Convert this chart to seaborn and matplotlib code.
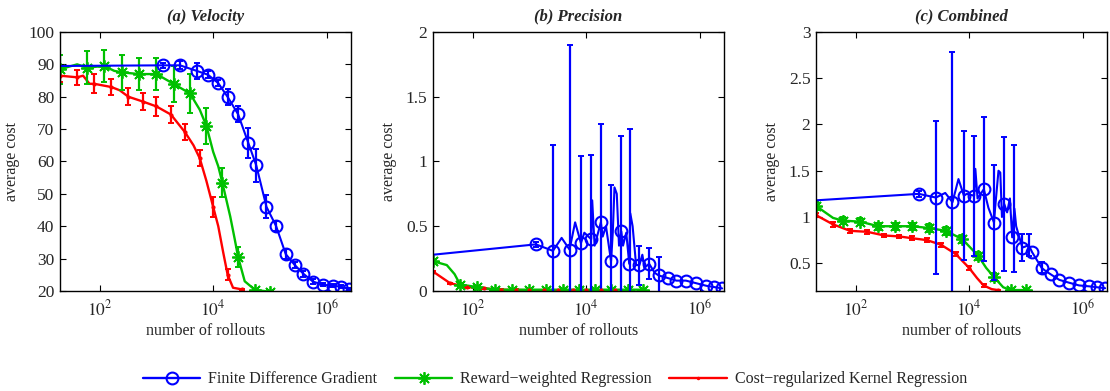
import numpy as np
import matplotlib
matplotlib.use('Agg')
import matplotlib.pyplot as plt
from matplotlib.lines import Line2D
from matplotlib.ticker import NullLocator, FuncFormatter
import seaborn as sns

# 样式设置 (MATLAB 风格)
sns.set_theme(style='ticks')
plt.rcParams['font.family'] = ['Liberation Serif', 'DejaVu Serif']
plt.rcParams['mathtext.fontset'] = 'stix'
plt.rcParams['xtick.direction'] = 'in'
plt.rcParams['ytick.direction'] = 'in'
plt.rcParams['xtick.top'] = True
plt.rcParams['ytick.right'] = True
plt.rcParams['axes.linewidth'] = 1.0

# ---------------- 数据 ----------------
titles = ['(a) Velocity', '(b) Precision', '(c) Combined']
labels = ['Finite Difference Gradient', 'Reward\u2212weighted Regression',
          'Cost\u2212regularized Kernel Regression']

# 公共 x 位置 (rollouts)
fdg_mark_x = [1300, 2600, 5100, 8100, 12300, 18200, 27500, 41700, 57500, 87000,
              129000, 190000, 275000, 390000, 575000, 870000, 1320000, 1820000, 2500000]
rwr_x = [20, 60, 120, 250, 500, 1000, 2000, 3900, 7600, 14500, 27500, 55000, 100000]
crkr_x = [20, 40, 80, 160, 320, 580, 1000, 1800, 3200, 5800, 10000, 18000, 32000]

# (a) Velocity
fdg_a_line_x = [20] + fdg_mark_x
fdg_a_line_y = [89.5, 89.7, 89.7, 88, 86.8, 84.2, 79.8, 74.6, 65.7, 58.8, 46, 40,
                31.4, 28, 25.3, 22.9, 21.9, 21.6, 21.3, 20.6]
fdg_a_mark_y = fdg_a_line_y[1:]
fdg_a_err = [0.8, 1.2, 2.5, 1, 1, 2.5, 2.5, 4.5, 5, 3.5, 1.5, 1.5, 1, 1, 0.8, 0.5, 0.5, 0.5, 0.3]

rwr_a_line_x = [20, 40, 60, 120, 180, 250, 500, 1000, 2000, 3900, 5800, 7600, 10000,
                12300, 14500, 20000, 24000, 27500, 36000, 55000, 100000]
rwr_a_line_y = [88.5, 90, 89, 89.5, 88, 87.5, 87, 87, 84, 81, 76, 71, 63,
                58.5, 53.5, 43, 36, 30.5, 23, 20.3, 19.8]
rwr_a_y = [88.5, 89, 89.5, 87.5, 87, 87, 84, 81, 71, 53.5, 30.5, 20.3, 19.8]
rwr_a_err = [4.5, 5, 5, 5.5, 5, 5, 5.5, 6, 5.5, 4.5, 3, 0.3, 0]

crkr_a_line_x = [20, 40, 51, 66, 80, 160, 225, 320, 580, 1000, 1800, 3200, 4500,
                 5800, 7600, 10000, 12300, 15000, 18000, 22400, 32000]
crkr_a_line_y = [86.5, 86, 86.5, 84, 84, 83, 82, 80, 78.5, 77, 74.5, 69, 65,
                 61, 54, 46, 40, 32, 25, 21, 20.5]
crkr_a_y = [86.5, 86, 84, 83, 80, 78.5, 77, 74.5, 69, 61, 46, 25, 20.5]
crkr_a_err = [2, 2.3, 3, 2.5, 2.7, 2.5, 3, 2.5, 2.5, 2.5, 3, 1.7, 0.2]

# (b) Precision
fdg_b_line_x = [20, 1300, 2600, 3700, 5100, 6400, 8100, 9300, 12300, 12800, 14100,
                18200, 19600, 22400, 27500, 29500, 31600, 34700, 38000, 41700, 44700,
                51000, 57500, 60000, 66000, 76000, 87000, 98000, 107000, 129000,
                162000, 190000, 275000, 390000, 575000, 870000, 1320000, 1820000, 2500000]
fdg_b_line_y = [0.28, 0.36, 0.31, 0.41, 0.32, 0.53, 0.37, 0.45, 0.40, 0.70, 0.35,
                0.53, 0.42, 0.50, 0.23, 0.45, 0.80, 0.75, 0.35, 0.46, 0.35,
                0.45, 0.21, 0.60, 0.50, 0.20, 0.20, 0.28, 0.18, 0.21,
                0.14, 0.12, 0.10, 0.08, 0.08, 0.06, 0.04, 0.03, 0.02]
fdg_b_mark_y = [0.36, 0.31, 0.32, 0.37, 0.40, 0.53, 0.23, 0.46, 0.21, 0.20, 0.21,
                0.12, 0.10, 0.08, 0.08, 0.06, 0.04, 0.03, 0.02]
fdg_b_err_x = [1300, 2600, 5100, 8100, 12300, 18200, 27500, 41700, 60000, 87000,
               129000, 190000]
fdg_b_err_y = [0.36, 0.31, 0.32, 0.37, 0.40, 0.53, 0.23, 0.46, 0.60, 0.20, 0.21, 0.12]
fdg_b_err = [0.02, 0.82, 1.58, 0.67, 0.65, 0.76, 0.59, 0.74, 0.65, 0.15, 0.12, 0.14]

rwr_b_line_x = [20, 35, 48, 60, 120, 250, 500, 1000, 2000, 3900, 7600, 14500,
                27500, 55000, 100000]
rwr_b_line_y = [0.23, 0.20, 0.13, 0.05, 0.03, 0.01, 0.01, 0.01, 0.01, 0.01, 0.01,
                0.01, 0.01, 0.01, 0.01]
rwr_b_y = [0.23, 0.05, 0.03, 0.01, 0.01, 0.01, 0.01, 0.01, 0.01, 0.01, 0.01, 0.01, 0.01]
rwr_b_err = [0.01, 0.01, 0.01, 0.005, 0.005, 0.005, 0.005, 0.005, 0.005, 0.005,
             0.005, 0.005, 0.005]

crkr_b_line_x = crkr_x
crkr_b_line_y = [0.15, 0.06, 0.03, 0.02, 0.01, 0.008, 0.006, 0.005, 0.005, 0.005,
                 0.005, 0.005, 0.005]
crkr_b_y = crkr_b_line_y
crkr_b_err = [0.005] * 13

# (c) Combined
fdg_c_line_x = [20, 1300, 2600, 3800, 5100, 6500, 8100, 9100, 12300, 12900, 14100,
                18200, 21900, 27500, 28800, 33000, 35500, 38000, 41700, 46800, 52500,
                57500, 63000, 67600, 87000, 98000, 112000, 129000, 190000, 219000,
                275000, 390000, 575000, 870000, 1320000, 1820000, 2500000]
fdg_c_line_y = [1.18, 1.25, 1.21, 1.26, 1.16, 1.41, 1.23, 1.25, 1.23, 1.52, 1.20,
                1.30, 1.10, 0.94, 1.10, 1.50, 1.48, 1.00, 1.14, 1.05, 1.20,
                0.78, 1.09, 0.90, 0.67, 0.68, 0.70, 0.62, 0.45, 0.42,
                0.38, 0.32, 0.29, 0.26, 0.25, 0.24, 0.23]
fdg_c_mark_y = [1.25, 1.21, 1.16, 1.23, 1.23, 1.30, 0.94, 1.14, 0.78, 0.67, 0.62,
                0.45, 0.38, 0.32, 0.29, 0.26, 0.25, 0.24, 0.23]
fdg_c_err_x = [1300, 2600, 5100, 8100, 12300, 18200, 27500, 41700, 63000, 87000,
               112000, 190000]
fdg_c_err_y = [1.25, 1.21, 1.16, 1.23, 1.23, 1.30, 0.94, 1.14, 1.09, 0.67, 0.70, 0.45]
fdg_c_err = [0.03, 0.83, 1.62, 0.70, 0.65, 0.78, 0.62, 0.72, 0.69, 0.15, 0.12, 0.06]

rwr_c_line_x = [20, 40, 60, 120, 250, 500, 1000, 2000, 3900, 7600, 14500, 20000,
                27500, 40000, 55000, 100000]
rwr_c_line_y = [1.12, 0.99, 0.96, 0.95, 0.90, 0.90, 0.90, 0.88, 0.85, 0.76, 0.58,
                0.45, 0.35, 0.24, 0.21, 0.21]
rwr_c_y = [1.12, 0.96, 0.95, 0.90, 0.90, 0.90, 0.88, 0.85, 0.76, 0.58, 0.35, 0.21, 0.21]
rwr_c_err = [0.04] * 11 + [0.01, 0.01]

crkr_c_line_x = [20, 40, 80, 160, 320, 580, 1000, 1800, 3200, 5800, 10000, 13800,
                 18000, 25000, 32000]
crkr_c_line_y = [1.02, 0.92, 0.85, 0.84, 0.80, 0.79, 0.77, 0.75, 0.70, 0.60, 0.45,
                 0.34, 0.26, 0.22, 0.21]
crkr_c_y = [1.02, 0.92, 0.85, 0.84, 0.80, 0.79, 0.77, 0.75, 0.70, 0.60, 0.45, 0.26, 0.21]
crkr_c_err = [0.02, 0.025, 0.025, 0.02, 0.02, 0.02, 0.02, 0.02, 0.02, 0.02, 0.025,
              0.015, 0.005]

ylims = [(20, 100), (0, 2), (0.2, 3)]
yticks = [np.arange(20, 101, 10), [0, 0.5, 1, 1.5, 2], [0.5, 1, 1.5, 2, 2.5, 3]]

# ---------------- 绘图 ----------------
blue = '#0000FF'
green = '#00C000'
red = '#FF0000'
star = (8, 2, 0)   # MATLAB 风格星号

fig = plt.figure(figsize=(11.1, 3.91), dpi=100)
lefts = [0.0541, 0.3901, 0.7351]

panels = [
    (fdg_a_line_x, fdg_a_line_y, fdg_a_mark_y, fdg_mark_x, fdg_a_mark_y, fdg_a_err,
     rwr_a_line_x, rwr_a_line_y, rwr_a_y, rwr_a_err,
     crkr_a_line_x, crkr_a_line_y, crkr_a_y, crkr_a_err),
    (fdg_b_line_x, fdg_b_line_y, fdg_b_mark_y, fdg_b_err_x, fdg_b_err_y, fdg_b_err,
     rwr_b_line_x, rwr_b_line_y, rwr_b_y, rwr_b_err,
     crkr_b_line_x, crkr_b_line_y, crkr_b_y, crkr_b_err),
    (fdg_c_line_x, fdg_c_line_y, fdg_c_mark_y, fdg_c_err_x, fdg_c_err_y, fdg_c_err,
     rwr_c_line_x, rwr_c_line_y, rwr_c_y, rwr_c_err,
     crkr_c_line_x, crkr_c_line_y, crkr_c_y, crkr_c_err),
]

for i, p in enumerate(panels):
    (fl_x, fl_y, fm_y, fe_x, fe_y, fe_e,
     rl_x, rl_y, r_y, r_e, cl_x, cl_y, c_y, c_e) = p
    ax = fig.add_axes([lefts[i], 0.2558, 0.2622, 0.6624])
    ax.set_xscale('log')

    # Cost-regularized Kernel Regression
    sns.lineplot(x=cl_x, y=cl_y, ax=ax, color=red, linewidth=1.7,
                 estimator=None, sort=False)
    ax.errorbar(crkr_x, c_y, yerr=c_e, fmt='.', color=red, ecolor=red,
                markersize=4, elinewidth=1.6, capsize=2.2, capthick=1.4)

    # Reward-weighted Regression
    sns.lineplot(x=rl_x, y=rl_y, ax=ax, color=green, linewidth=1.7,
                 estimator=None, sort=False)
    ax.errorbar(rwr_x, r_y, yerr=r_e, fmt='none', ecolor=green,
                elinewidth=1.6, capsize=2.4, capthick=1.4)
    ax.plot(rwr_x, r_y, marker=star, color=green, markersize=9,
            markeredgewidth=1.3, linestyle='none')

    # Finite Difference Gradient
    sns.lineplot(x=fl_x, y=fl_y, ax=ax, color=blue, linewidth=1.5,
                 estimator=None, sort=False)
    ax.errorbar(fe_x, fe_y, yerr=fe_e, fmt='none', ecolor=blue,
                elinewidth=1.6, capsize=2.4, capthick=1.4)
    ax.plot(fdg_mark_x, fm_y, 'o', color=blue, markerfacecolor='none',
            markersize=8.5, markeredgewidth=1.5, linestyle='none')

    ax.set_xlim(20, 2.7e6)
    ax.set_ylim(*ylims[i])
    ax.set_xticks([1e2, 1e4, 1e6])
    ax.set_xticklabels([r'$10^2$', r'$10^4$', r'$10^6$'])
    ax.xaxis.set_minor_locator(NullLocator())
    ax.set_yticks(yticks[i])
    ax.yaxis.set_major_formatter(FuncFormatter(lambda v, pos: '%g' % v))
    ax.tick_params(axis='both', which='major', labelsize=12.5, length=4,
                   width=0.8, color='black', pad=4)
    ax.tick_params(axis='x', pad=6)
    for s in ax.spines.values():
        s.set_color('black')
    ax.set_xlabel('number of rollouts', fontsize=11.5, labelpad=3)
    ax.set_ylabel('average cost', fontsize=11.5, labelpad=6)
    ax.set_title(titles[i], fontsize=12, fontweight='bold', fontstyle='italic', pad=8)

handles = [
    Line2D([], [], color=blue, linewidth=1.7, marker='o', markerfacecolor='none',
           markersize=8.5, markeredgewidth=1.5),
    Line2D([], [], color=green, linewidth=1.7, marker=star, markersize=9,
           markeredgewidth=1.3),
    Line2D([], [], color=red, linewidth=1.7, marker='.', markersize=3),
]
fig.legend(handles, labels, loc='center', bbox_to_anchor=(0.5, 0.03), ncol=3,
           frameon=False, fontsize=11.5, handlelength=3.6, columnspacing=1.1,
           handletextpad=0.5)

plt.savefig('out.png', dpi=100)
